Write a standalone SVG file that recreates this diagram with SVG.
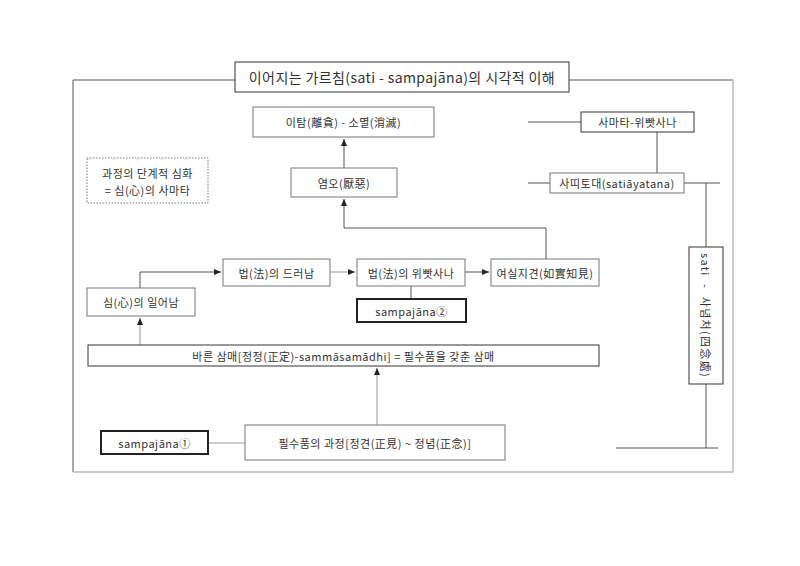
<svg xmlns="http://www.w3.org/2000/svg" width="800" height="566" viewBox="0 0 800 566">
<defs>
<style>
.t{font-family:"Noto Sans CJK KR","Noto Sans",sans-serif;font-size:11px;fill:#333;text-anchor:middle;dominant-baseline:central;letter-spacing:0.5px}
.b{fill:#fff;stroke:#777;stroke-width:1}
.bd{fill:#fff;stroke:#333;stroke-width:1}
.bt{fill:#fff;stroke:#222;stroke-width:2}
.l{fill:none;stroke:#555;stroke-width:1}
.lg{fill:none;stroke:#999;stroke-width:1}
</style>
<marker id="ah" markerWidth="8" markerHeight="8" refX="7" refY="4" orient="auto" markerUnits="userSpaceOnUse">
<path d="M0,1 L7,4 L0,7 Z" fill="#222"/>
</marker>
</defs>
<rect width="800" height="566" fill="#fff"/>
<g id="frame">
<path d="M235,80 H73 V472" class="l"/>
<path d="M569,80 H733" class="l"/>
<path d="M733,80 V472 H73" fill="none" stroke="#bbb" stroke-width="1.5"/>
</g>
<g id="connectors">
<path d="M344,168 V139" class="l" marker-end="url(#ah)"/>
<path d="M546,259 V228 H344 V199" class="l" marker-end="url(#ah)"/>
<path d="M528,122 H581" class="l"/>
<path d="M657,132 V173" class="l"/>
<path d="M528,183 H550" class="l"/>
<path d="M684,183 H720" class="l"/>
<path d="M706,183 V448" class="l"/>
<path d="M616,448 H718" class="l"/>
<path d="M140,288 V272 H221" class="l" marker-end="url(#ah)"/>
<path d="M330,272 H355" class="lg" marker-end="url(#ah)"/>
<path d="M465,272 H489" class="l" marker-end="url(#ah)"/>
<path d="M411,286 V299" class="l"/>
<path d="M140,345 V318" class="lg" marker-end="url(#ah)"/>
<path d="M377,425 V368" class="lg" marker-end="url(#ah)"/>
<path d="M208,443 H245" class="lg"/>
</g>
<g id="title"><rect x="235" y="62" width="334" height="30" class="bd"/><text x="402" y="77" class="t" style="font-size:14px;letter-spacing:0.4px">이어지는 가르침(sati - sampajāna)의 시각적 이해</text></g>
<g id="itam"><rect x="253" y="107" width="181" height="30" class="b"/><text x="343.5" y="122" class="t">이탐(離貪) - 소멸(消滅)</text></g>
<g id="yeomo"><rect x="291" y="168" width="106" height="29" class="b"/><text x="344" y="182.5" class="t">염오(厭惡)</text></g>
<g id="note"><rect x="87" y="158" width="121" height="45" fill="#fff" stroke="#777" stroke-dasharray="1.5,1.5"/><text x="147.5" y="173" class="t">과정의 단계적 심화</text><text x="147.5" y="190" class="t">= 심(心)의 사마타</text></g>
<g id="samatha"><rect x="581" y="112" width="113" height="20" class="bd"/><text x="637.5" y="122" class="t">사마타-위빳사나</text></g>
<g id="satitodae"><rect x="550" y="173" width="134" height="20" class="b"/><text x="617" y="183" class="t">사띠토대(satiāyatana)</text></g>
<g id="sati"><rect x="689" y="247" width="34" height="137" class="bd"/><text transform="translate(706,315.5) rotate(90)" class="t" style="letter-spacing:1.3px" xml:space="preserve">sati  -  사념처(四念處)</text></g>
<g id="deureonam"><rect x="223" y="259" width="107" height="27" class="b"/><text x="276.5" y="272.5" class="t">법(法)의 드러남</text></g>
<g id="wipassana"><rect x="357" y="259" width="108" height="27" class="b"/><text x="411" y="272.5" class="t">법(法)의 위빳사나</text></g>
<g id="yeosil"><rect x="491" y="259" width="108" height="27" class="b"/><text x="545" y="272.5" class="t">여실지견(如實知見)</text></g>
<g id="sampajana2"><rect x="357" y="299" width="109" height="23" class="bt"/><text x="411.5" y="310.5" class="t">sampajāna②</text></g>
<g id="sim"><rect x="87" y="288" width="108" height="28" class="b"/><text x="141" y="302" class="t">심(心)의 일어남</text></g>
<g id="samadhi"><rect x="88" y="345" width="511" height="21" class="bd"/><text x="343.5" y="355.5" class="t">바른 삼매[정정(正定)-sammāsamādhi] = 필수품을 갖춘 삼매</text></g>
<g id="pilsupum"><rect x="245" y="425" width="260" height="35" class="b"/><text x="375" y="442.5" class="t">필수품의 과정[정견(正見) ~ 정념(正念)]</text></g>
<g id="sampajana1"><rect x="101" y="431" width="107" height="23" class="bt"/><text x="154.5" y="442.5" class="t">sampajāna①</text></g>
</svg>
